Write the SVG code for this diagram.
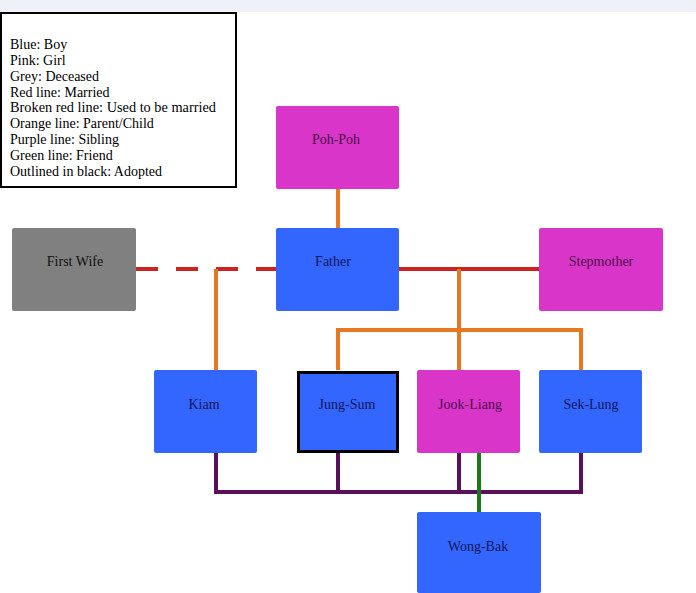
<svg xmlns="http://www.w3.org/2000/svg" width="696" height="593" viewBox="0 0 696 593">
<style>
.node rect{stroke:none}
.boy{fill:#3366ff}
.girl{fill:#d935c9}
.dead{fill:#808080}
text{font-family:"Liberation Serif","DejaVu Serif",serif}
.lbl{font-size:14px;text-anchor:middle}
.boyt{fill:#14145a}
.girlt{fill:#4a0e4a}
.deadt{fill:#111}
.leg{font-size:14px;fill:#000}
.c line,.c path{fill:none;stroke-width:4}
.red{stroke:#cc2222}
.org{stroke:#e87722}
.pur{stroke:#5a0f5a}
.grn{stroke:#1a7a1a}
</style>
<rect x="0" y="0" width="696" height="593" fill="#ffffff"/>
<rect x="0" y="0" width="696" height="12" fill="#eef2f8"/>
<g id="legend">
<rect x="1" y="13" width="235" height="174" fill="#fff" stroke="#000" stroke-width="2"/>
<text class="leg" x="10" y="49">Blue: Boy</text>
<text class="leg" x="10" y="65">Pink: Girl</text>
<text class="leg" x="10" y="81">Grey: Deceased</text>
<text class="leg" x="10" y="97">Red line: Married</text>
<text class="leg" x="10" y="112" textLength="206" lengthAdjust="spacingAndGlyphs">Broken red line: Used to be married</text>
<text class="leg" x="10" y="128">Orange line: Parent/Child</text>
<text class="leg" x="10" y="144">Purple line: Sibling</text>
<text class="leg" x="10" y="160">Green line: Friend</text>
<text class="leg" x="10" y="176">Outlined in black: Adopted</text>
</g>
<g id="connectors" class="c">
<line class="org" x1="338" y1="189" x2="338" y2="228"/>
<line class="red" x1="136" y1="269" x2="276" y2="269" stroke-dasharray="22,18"/>
<path class="org" d="M216 370 V269"/>
<line class="red" x1="399" y1="269" x2="539" y2="269"/>
<line class="org" x1="459" y1="269" x2="459" y2="370"/>
<path class="org" d="M338 370 V330 H581 V370"/>
<path class="pur" d="M216 453 V492 H581 V453"/>
<line class="pur" x1="338" y1="453" x2="338" y2="492"/>
<line class="pur" x1="459" y1="453" x2="459" y2="492"/>
<line class="grn" x1="479" y1="453" x2="479" y2="512"/>
</g>
<g id="pohpoh" class="node"><rect class="girl" x="276" y="106" width="123" height="83" rx="2"/><text class="lbl girlt" x="336" y="144">Poh-Poh</text></g>
<g id="father" class="node"><rect class="boy" x="276" y="228" width="123" height="83" rx="2"/><text class="lbl boyt" x="333" y="266">Father</text></g>
<g id="firstwife" class="node"><rect class="dead" x="12" y="228" width="124" height="83" rx="2"/><text class="lbl deadt" x="75" y="266">First Wife</text></g>
<g id="stepmother" class="node"><rect class="girl" x="539" y="228" width="124" height="83" rx="2"/><text class="lbl girlt" x="601" y="266">Stepmother</text></g>
<g id="kiam" class="node"><rect class="boy" x="154" y="370" width="103" height="83" rx="2"/><text class="lbl boyt" x="204" y="409">Kiam</text></g>
<g id="jungsum" class="node"><rect class="boy" x="298.5" y="372.5" width="99" height="79" style="stroke:#000;stroke-width:3"/><text class="lbl boyt" x="347" y="409">Jung-Sum</text></g>
<g id="jookliang" class="node"><rect class="girl" x="417" y="370" width="103" height="83" rx="2"/><text class="lbl girlt" x="470" y="409">Jook-Liang</text></g>
<g id="seklung" class="node"><rect class="boy" x="539" y="370" width="103" height="83" rx="2"/><text class="lbl boyt" x="591" y="409">Sek-Lung</text></g>
<g id="wongbak" class="node"><rect class="boy" x="417" y="512" width="124" height="81" rx="2"/><text class="lbl boyt" x="478" y="551">Wong-Bak</text></g>
</svg>
